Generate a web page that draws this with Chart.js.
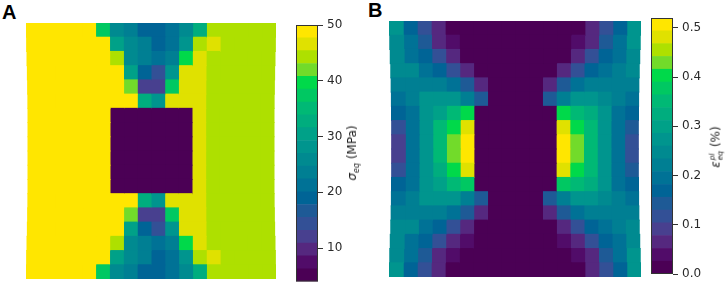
<!DOCTYPE html>
<html><head><meta charset="utf-8">
<style>
html,body{margin:0;padding:0;background:#fff;width:726px;height:284px;overflow:hidden}
body{position:relative;font-family:"DejaVu Sans",sans-serif;filter:blur(.35px)}
canvas{position:absolute;display:block}
.panel{position:absolute;font:bold 20px "Liberation Sans",Arial,sans-serif;color:#000;line-height:20px}
.cbt{position:absolute;color:#222;font-size:12px;white-space:nowrap;transform:translate(-50%,-50%) rotate(-90deg);line-height:14px}
.cbt sub,.cbt sup{font-size:8px;line-height:0}
.stack{display:inline-flex;flex-direction:column;vertical-align:middle;font-size:7.5px;line-height:7.5px;font-style:italic;margin-left:1px}
</style>
<script src="https://cdn.jsdelivr.net/npm/chart.js@4"></script>
</head><body>
<div class="panel" style="left:2px;top:2px">A</div>
<div class="panel" style="left:368px;top:0px">B</div>
<canvas id="gridA" style="left:26px;top:23px;width:250px;height:256px" width="250" height="256"></canvas>
<canvas id="barA" style="left:296px;top:15px;width:60px;height:269px" width="60" height="269"></canvas>
<canvas id="gridB" style="left:389px;top:21px;width:252px;height:256px" width="252" height="256"></canvas>
<canvas id="barB" style="left:651px;top:8px;width:60px;height:276px" width="60" height="276"></canvas>
<div class="cbt" style="left:352px;top:153px"><i>σ<sub>eq</sub></i> (MPa)</div>
<div class="cbt" style="left:716px;top:147px"><i>ε</i><span class="stack"><span>pl</span><span>eq</span></span> (%)</div>
<script>
const levelColors = ['#4B0055','#510C69','#55287F','#48408F','#335096','#1E5A96','#006496','#007296','#007F93','#008A90',
  '#00958E','#00A188','#00AD7E','#00B975','#00C862','#00D94A','#72DB2A','#AEE000','#E0E100','#FFE600'];

const sigmaRange = [4, 50];
const sigmaTicks = [10, 20, 30, 40, 50];
const strainRange = [0, 0.52];
const strainTicks = [0, 0.1, 0.2, 0.3, 0.4, 0.5];

const meshWidthA = [.998,.995,.992,.989,.987,.985,.984,.984,.984,.984,.984,.984,.985,.987,.989,.992,.995,.998];
const meshWidthB = [.998,.994,.99,.986,.983,.981,.98,.979,.979,.979,.979,.98,.981,.983,.986,.99,.994,.998];

const sigma00 = [49,49,49,49,49,37.5,26,23.5,19,19,21,26,33,44.5,44.5,44.5,44.5,44.5];
const sigma01 = [49,49,49,49,49,49,30.5,26,23.5,19,21,28,44.5,46.5,44.5,44.5,44.5,44.5];
const sigma02 = [49,49,49,49,49,49,44.5,26,23.5,21,23.5,39.5,46.5,44.5,44.5,44.5,44.5,44.5];
const sigma03 = [49,49,49,49,49,49,49,30.5,19,14.5,28,46.5,46.5,44.5,44.5,44.5,44.5,44.5];
const sigma04 = [49,49,49,49,49,49,49,42,12,12,37.5,46.5,46.5,44.5,44.5,44.5,44.5,44.5];
const sigma05 = [49,49,49,49,49,49,49,49,33,28,46.5,46.5,46.5,44.5,44.5,44.5,44.5,44.5];
const sigma06 = [49,49,49,49,49,49,5,5,5,5,5,5,46.5,44.5,44.5,44.5,44.5,44.5];
const sigma07 = [49,49,49,49,49,49,5,5,5,5,5,5,46.5,44.5,44.5,44.5,44.5,44.5];
const sigma08 = [49,49,49,49,49,49,5,5,5,5,5,5,46.5,44.5,44.5,44.5,44.5,44.5];
const sigma09 = [49,49,49,49,49,49,5,5,5,5,5,5,46.5,44.5,44.5,44.5,44.5,44.5];
const sigma10 = [49,49,49,49,49,49,5,5,5,5,5,5,46.5,44.5,44.5,44.5,44.5,44.5];
const sigma11 = [49,49,49,49,49,49,5,5,5,5,5,5,46.5,44.5,44.5,44.5,44.5,44.5];
const sigma12 = [49,49,49,49,49,49,49,49,33,28,46.5,46.5,46.5,44.5,44.5,44.5,44.5,44.5];
const sigma13 = [49,49,49,49,49,49,49,42,12,12,37.5,46.5,46.5,44.5,44.5,44.5,44.5,44.5];
const sigma14 = [49,49,49,49,49,49,49,30.5,19,14.5,28,46.5,46.5,44.5,44.5,44.5,44.5,44.5];
const sigma15 = [49,49,49,49,49,49,44.5,26,23.5,21,23.5,39.5,46.5,44.5,44.5,44.5,44.5,44.5];
const sigma16 = [49,49,49,49,49,49,30.5,26,23.5,19,21,28,44.5,46.5,44.5,44.5,44.5,44.5];
const sigma17 = [49,49,49,49,49,37.5,26,23.5,19,19,21,26,33,44.5,44.5,44.5,44.5,44.5];
const sigmaRows = [sigma00,sigma01,sigma02,sigma03,sigma04,sigma05,sigma06,sigma07,sigma08,sigma09,sigma10,sigma11,sigma12,sigma13,sigma14,sigma15,sigma16,sigma17];

const strain00 = [.273,.169,.117,.065,.013,.013,.013,.013,.013,.013,.013,.013,.013,.013,.065,.117,.169,.273];
const strain01 = [.247,.195,.143,.065,.039,.013,.013,.013,.013,.013,.013,.013,.013,.039,.065,.143,.195,.273];
const strain02 = [.247,.195,.169,.117,.065,.013,.013,.013,.013,.013,.013,.013,.013,.065,.117,.169,.195,.247];
const strain03 = [.247,.247,.195,.169,.117,.065,.013,.013,.013,.013,.013,.013,.065,.117,.169,.195,.221,.247];
const strain04 = [.221,.221,.221,.221,.195,.143,.065,.013,.013,.013,.013,.065,.143,.195,.221,.221,.221,.221];
const strain05 = [.195,.221,.273,.273,.273,.221,.143,.013,.013,.013,.013,.143,.221,.273,.273,.247,.221,.195];
const strain06 = [.169,.195,.273,.299,.351,.403,.013,.013,.013,.013,.013,.013,.403,.351,.325,.273,.195,.169];
const strain07 = [.117,.195,.273,.351,.403,.481,.013,.013,.013,.013,.013,.013,.481,.403,.351,.273,.195,.143];
const strain08 = [.091,.195,.273,.351,.429,.507,.013,.013,.013,.013,.013,.013,.507,.429,.351,.273,.195,.117];
const strain09 = [.091,.195,.273,.351,.429,.507,.013,.013,.013,.013,.013,.013,.507,.429,.351,.273,.195,.117];
const strain10 = [.117,.195,.273,.325,.403,.481,.013,.013,.013,.013,.013,.013,.481,.403,.351,.273,.195,.143];
const strain11 = [.169,.195,.273,.299,.351,.377,.013,.013,.013,.013,.013,.013,.377,.351,.325,.273,.195,.169];
const strain12 = [.195,.221,.273,.273,.273,.221,.143,.013,.013,.013,.013,.143,.221,.273,.273,.247,.221,.195];
const strain13 = [.221,.221,.221,.221,.195,.143,.065,.013,.013,.013,.013,.065,.143,.195,.221,.221,.221,.221];
const strain14 = [.247,.247,.195,.169,.117,.065,.013,.013,.013,.013,.013,.013,.065,.117,.169,.195,.221,.247];
const strain15 = [.247,.195,.169,.117,.065,.039,.013,.013,.013,.013,.013,.013,.039,.065,.117,.169,.195,.247];
const strain16 = [.247,.195,.143,.065,.039,.013,.013,.013,.013,.013,.013,.013,.013,.039,.065,.143,.195,.273];
const strain17 = [.273,.169,.117,.065,.013,.013,.013,.013,.013,.013,.013,.013,.013,.013,.065,.117,.169,.273];
const strainRows = [strain00,strain01,strain02,strain03,strain04,strain05,strain06,strain07,strain08,strain09,strain10,strain11,strain12,strain13,strain14,strain15,strain16,strain17];

function colorFor(v, range){
  const i = Math.floor((v - range[0]) / (range[1] - range[0]) * levelColors.length);
  return levelColors[Math.max(0, Math.min(levelColors.length - 1, i))];
}

function meshChart(id, rows, mesh, range){
  const nCols = rows[0].length, mid = nCols / 2;
  const datasets = [];
  for (let c = 0; c < nCols; c++){
    datasets.push({
      data: rows.map((row, r) => [mid + (c - mid) * mesh[r], mid + (c + 1 - mid) * mesh[r]]),
      backgroundColor: rows.map(row => colorFor(row[c], range)),
      borderWidth: 0, inflateAmount: 0.5, barPercentage: 1, categoryPercentage: 1, grouped: false
    });
  }
  new Chart(document.getElementById(id), {
    type: 'bar',
    data: { labels: rows.map((_, r) => 'row ' + (r + 1)), datasets },
    options: {
      indexAxis: 'y', responsive: false, animation: false,
      layout: { padding: 0 },
      plugins: { legend: { display: false }, tooltip: { enabled: false } },
      scales: {
        x: { type: 'linear', min: 0, max: nCols, display: false },
        y: { type: 'category', display: false, offset: true }
      }
    }
  });
}

function colorbarChart(id, range, ticks, fmt, padTop, padBottom){
  const n = levelColors.length, step = (range[1] - range[0]) / n;
  const datasets = levelColors.map((col, i) => ({
    data: [[range[0] + i * step, range[0] + (i + 1) * step]],
    backgroundColor: col, borderWidth: 0, inflateAmount: 0.3, barPercentage: 1, categoryPercentage: 1, grouped: false
  }));
  new Chart(document.getElementById(id), {
    type: 'bar',
    data: { labels: ['levels'], datasets },
    options: {
      responsive: false, animation: false,
      layout: { padding: { top: padTop, bottom: padBottom, left: 0, right: 0 } },
      plugins: { legend: { display: false }, tooltip: { enabled: false } },
      scales: {
        x: { display: false, offset: true },
        y: {
          type: 'linear', position: 'right', min: range[0], max: range[1],
          afterBuildTicks: s => { s.ticks = ticks.map(v => ({ value: v })); },
          afterFit: s => { s.width = 38; s.paddingTop = 0; s.paddingBottom = 0; },
          grid: { drawOnChartArea: false, drawTicks: true, tickLength: 5, color: '#333', lineWidth: 1 },
          border: { display: false },
          ticks: {
            autoSkip: false, maxRotation: 0, padding: 4, color: '#2a2a2a',
            font: { family: 'DejaVu Sans', size: 12 },
            callback: fmt
          }
        }
      }
    },
    plugins: [{
      id: 'outline',
      afterDatasetsDraw(chart){
        const a = chart.chartArea, ctx = chart.ctx;
        ctx.save(); ctx.strokeStyle = '#333'; ctx.lineWidth = 1;
        ctx.strokeRect(a.left + .5, a.top + .5, a.right - a.left - 1, a.bottom - a.top - 1);
        ctx.restore();
      }
    }]
  });
}

meshChart('gridA', sigmaRows, meshWidthA, sigmaRange);
meshChart('gridB', strainRows, meshWidthB, strainRange);
colorbarChart('barA', sigmaRange, sigmaTicks, v => String(v), 10, 2.5);
colorbarChart('barB', strainRange, strainTicks, v => v.toFixed(1), 10, 10);
</script>
</body></html>
